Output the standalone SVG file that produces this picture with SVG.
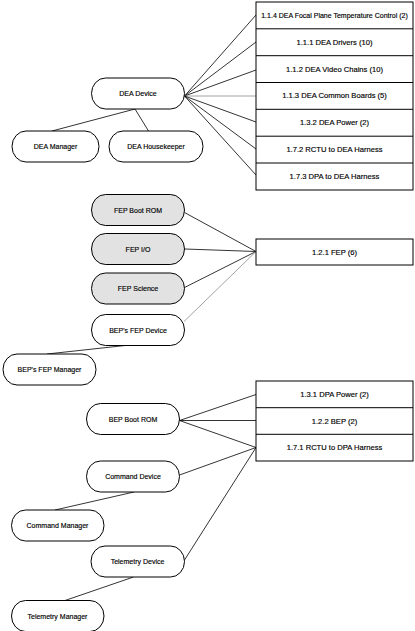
<svg xmlns="http://www.w3.org/2000/svg" width="415" height="631" viewBox="0 0 415 631">
<style>
.pill{fill:#fff;stroke:#000;stroke-width:1}
.gray{fill:#e2e2e2}
.box{fill:#fff;stroke:#000;stroke-width:1}
.pt{font-family:"Liberation Sans",Arial,sans-serif;font-size:7px;fill:#000;stroke:#000;stroke-width:0.15;text-anchor:middle;dominant-baseline:central}
.bt{font-family:"Liberation Sans",Arial,sans-serif;font-size:7.6px;fill:#000;stroke:#000;stroke-width:0.15;text-anchor:middle;dominant-baseline:central}
.bt.long{font-size:7px}
#connectors line{stroke:#000;stroke-width:0.8;fill:none}
#connectors line.light{stroke:#8a8a8a}
</style>
<rect width="415" height="631" fill="#fff"/>
<g id="connectors">
<line x1="184.5" y1="96" x2="256" y2="15"/>
<line x1="184.5" y1="96" x2="256" y2="42"/>
<line x1="184.5" y1="96" x2="256" y2="70"/>
<line x1="184.5" y1="96" x2="256" y2="96" class="light"/>
<line x1="184.5" y1="96" x2="256" y2="122"/>
<line x1="184.5" y1="96" x2="256" y2="149"/>
<line x1="184.5" y1="96" x2="256" y2="175"/>
<line x1="135" y1="109" x2="52" y2="131"/>
<line x1="135" y1="109" x2="148.5" y2="131"/>
<line x1="184.5" y1="212.5" x2="256" y2="251.5"/>
<line x1="185" y1="249" x2="256" y2="251.5"/>
<line x1="184.5" y1="287.5" x2="256" y2="251.5"/>
<line x1="184" y1="321.5" x2="256" y2="251.5" class="light"/>
<line x1="125" y1="345.5" x2="47" y2="354"/>
<line x1="179.5" y1="420.5" x2="256" y2="394.5"/>
<line x1="179.5" y1="420.5" x2="256" y2="420.5"/>
<line x1="179.5" y1="420.5" x2="256" y2="447.5"/>
<line x1="179.5" y1="475" x2="256" y2="447.5"/>
<line x1="184.5" y1="560" x2="256" y2="447.5"/>
<line x1="134" y1="492" x2="55" y2="510"/>
<line x1="133.5" y1="577" x2="65" y2="600.5"/>
</g>
<g id="dea-boxes">
<rect class="box" x="256" y="2" width="157" height="188"/>
<line x1="256" y1="28.8" x2="413" y2="28.8" stroke="#000" stroke-width="1"/>
<line x1="256" y1="55.7" x2="413" y2="55.7" stroke="#000" stroke-width="1"/>
<line x1="256" y1="82.5" x2="413" y2="82.5" stroke="#000" stroke-width="1"/>
<line x1="256" y1="109.3" x2="413" y2="109.3" stroke="#000" stroke-width="1"/>
<line x1="256" y1="136.2" x2="413" y2="136.2" stroke="#000" stroke-width="1"/>
<line x1="256" y1="163" x2="413" y2="163" stroke="#000" stroke-width="1"/>
<text class="bt long" x="334.5" y="15.5">1.1.4 DEA Focal Plane Temperature Control (2)</text>
<text class="bt" x="334.5" y="42.3">1.1.1 DEA Drivers (10)</text>
<text class="bt" x="334.5" y="69.1">1.1.2 DEA Video Chains (10)</text>
<text class="bt" x="334.5" y="95.9">1.1.3 DEA Common Boards (5)</text>
<text class="bt" x="334.5" y="122.7">1.3.2 DEA Power (2)</text>
<text class="bt" x="334.5" y="149.6">1.7.2 RCTU to DEA Harness</text>
<text class="bt" x="334.5" y="176.4">1.7.3 DPA to DEA Harness</text>
</g>
<g id="fep-box">
<rect class="box" x="256" y="239" width="157" height="26"/>
<text class="bt" x="334.5" y="252">1.2.1 FEP (6)</text>
</g>
<g id="bep-boxes">
<rect class="box" x="256" y="381" width="157" height="80"/>
<line x1="256" y1="407.7" x2="413" y2="407.7" stroke="#000" stroke-width="1"/>
<line x1="256" y1="434.3" x2="413" y2="434.3" stroke="#000" stroke-width="1"/>
<text class="bt" x="334.5" y="394.3">1.3.1 DPA Power (2)</text>
<text class="bt" x="334.5" y="421">1.2.2 BEP  (2)</text>
<text class="bt" x="334.5" y="447.7">1.7.1 RCTU to DPA Harness</text>
</g>
<g id="dea-device"><rect class="pill" x="91.5" y="78" width="93" height="31" rx="14" ry="15.5"/><text class="pt" x="138" y="93.5">DEA Device</text></g>
<g id="dea-manager"><rect class="pill" x="12" y="131" width="87" height="31" rx="14" ry="15.5"/><text class="pt" x="55.5" y="146.5">DEA Manager</text></g>
<g id="dea-housekeeper"><rect class="pill" x="109" y="131" width="94" height="31" rx="14" ry="15.5"/><text class="pt" x="156" y="146.5">DEA Housekeeper</text></g>
<g id="fep-boot-rom"><rect class="pill gray" x="91.5" y="194.5" width="93" height="31" rx="14" ry="15.5"/><text class="pt" x="138" y="210">FEP Boot ROM</text></g>
<g id="fep-io"><rect class="pill gray" x="91.5" y="233.5" width="93" height="31" rx="14" ry="15.5"/><text class="pt" x="138" y="249">FEP I/O</text></g>
<g id="fep-science"><rect class="pill gray" x="91.5" y="273" width="93" height="31" rx="14" ry="15.5"/><text class="pt" x="138" y="288.5">FEP Science</text></g>
<g id="beps-fep-device"><rect class="pill" x="91.5" y="314.5" width="93" height="31" rx="14" ry="15.5"/><text class="pt" x="138" y="330">BEP's FEP Device</text></g>
<g id="beps-fep-manager"><rect class="pill" x="3" y="354" width="93" height="31" rx="14" ry="15.5"/><text class="pt" x="49.5" y="369.5">BEP's FEP Manager</text></g>
<g id="bep-boot-rom"><rect class="pill" x="86.5" y="403.5" width="93" height="31" rx="14" ry="15.5"/><text class="pt" x="133" y="419">BEP Boot ROM</text></g>
<g id="command-device"><rect class="pill" x="86.5" y="461" width="93" height="31" rx="14" ry="15.5"/><text class="pt" x="133" y="476.5">Command Device</text></g>
<g id="command-manager"><rect class="pill" x="11.5" y="510" width="92.5" height="31" rx="14" ry="15.5"/><text class="pt" x="57.5" y="525.5">Command Manager</text></g>
<g id="telemetry-device"><rect class="pill" x="91" y="546" width="93.5" height="31" rx="14" ry="15.5"/><text class="pt" x="137.5" y="561.5">Telemetry Device</text></g>
<g id="telemetry-manager"><rect class="pill" x="11.5" y="600.5" width="92.5" height="31" rx="14" ry="15.5"/><text class="pt" x="57.5" y="616">Telemetry Manager</text></g>
</svg>
